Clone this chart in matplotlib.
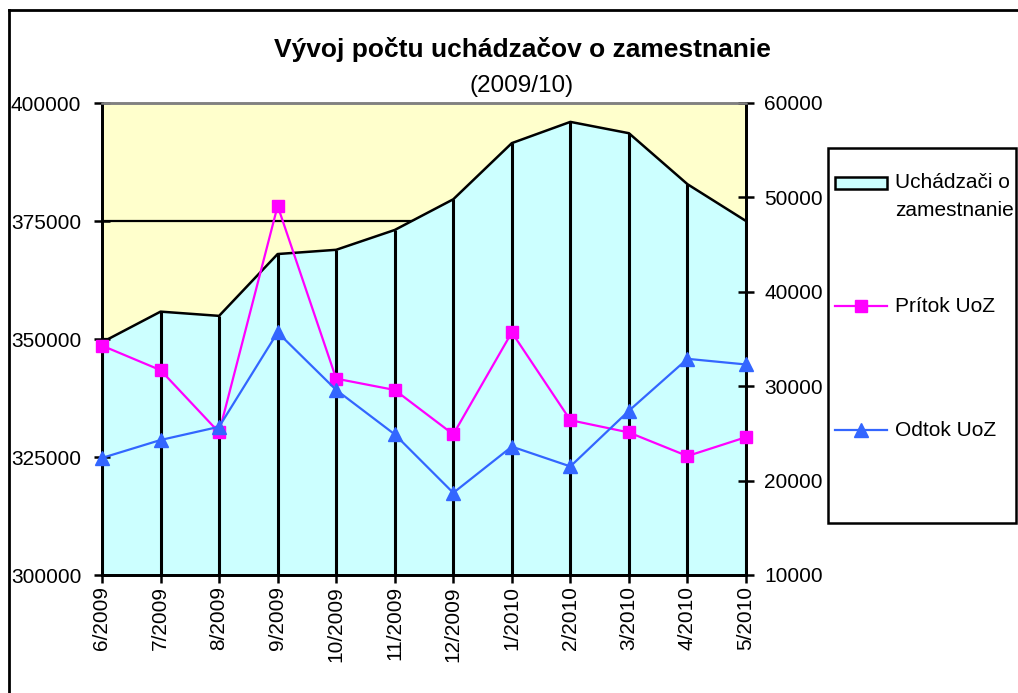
import matplotlib
matplotlib.use("Agg")
import matplotlib.pyplot as plt
from matplotlib.lines import Line2D
from matplotlib.patches import Rectangle

plt.rcParams['font.family'] = ['Liberation Sans', 'DejaVu Sans']

months = ["6/2009", "7/2009", "8/2009", "9/2009", "10/2009", "11/2009",
          "12/2009", "1/2010", "2/2010", "3/2010", "4/2010", "5/2010"]
uchadzaci = [349300, 355800, 354900, 368000, 368900, 373100,
             379600, 391500, 396000, 393600, 382800, 375000]
pritok = [34300, 31700, 25100, 49100, 30800, 29600,
          24900, 35700, 26400, 25100, 22600, 24600]
odtok = [22400, 24300, 25700, 35700, 29600, 24900,
         18700, 23600, 21500, 27400, 32900, 32300]

W, H = 1018, 693
fig = plt.figure(figsize=(W / 100, H / 100), dpi=100)
fig.patch.set_facecolor("white")

L, R, T, B = 102, 746, 103, 575
ax = fig.add_axes([L / W, 1 - B / H, (R - L) / W, (B - T) / H])
ax2 = ax.twinx()

x = list(range(len(months)))
fill_c = "#CCFFFF"
ax.set_facecolor("#FFFFCC")
ax.set_xlim(0, len(months) - 1)
ax.set_ylim(300000, 400000)
ax.set_yticks([300000, 325000, 350000, 375000, 400000])
for g in [325000, 350000, 375000]:
    ax.axhline(g, color="black", lw=1.6, zorder=0.5)
ax.fill_between(x, 300000, uchadzaci, color=fill_c, zorder=1, lw=0)
ax.plot(x, uchadzaci, color="black", lw=1.8, zorder=2)
ax.vlines(x, 300000, uchadzaci, color="black", lw=2.2, zorder=2)

ax2.set_ylim(10000, 60000)
ax2.set_yticks([10000, 20000, 30000, 40000, 50000, 60000])
pcol = "#FF00FF"
ocol = "#3366FF"
ax2.plot(x, pritok, color=pcol, lw=1.6, marker="s", ms=9,
         markerfacecolor=pcol, markeredgecolor=pcol, zorder=3, clip_on=False)
ax2.plot(x, odtok, color=ocol, lw=1.6, marker="^", ms=10.5,
         markerfacecolor=ocol, markeredgecolor=ocol, zorder=3, clip_on=False)

ax.set_xticks(x)
ax.set_xticklabels(months, rotation=90, fontsize=15, va="top", ha="center")
ax.tick_params(axis="x", direction="inout", length=12, width=1.8, pad=2)
ax.tick_params(axis="y", direction="inout", length=12, width=1.8, pad=9, labelsize=15)
ax2.tick_params(axis="y", direction="inout", length=12, width=1.8, pad=7, labelsize=15)

for a in (ax, ax2):
    for s in ("left", "right", "bottom"):
        a.spines[s].set_color("black")
        a.spines[s].set_linewidth(2.0)
    a.spines["top"].set_color("#808080")
    a.spines["top"].set_linewidth(1.8)

# Titles
fig.text(522 / W, 1 - 50 / H, "Vývoj počtu uchádzačov o zamestnanie",
         ha="center", va="center", fontsize=19, fontweight="bold")
fig.text(522 / W, 1 - 86 / H, "(2009/10)", ha="center", va="center", fontsize=17.5)

# Figure border (left and top edges visible)
fig.add_artist(Line2D([9 / W, 9 / W], [0, 1 - 10 / H], transform=fig.transFigure,
                      color="black", lw=2.0))
fig.add_artist(Line2D([9 / W, 1], [1 - 10 / H, 1 - 10 / H], transform=fig.transFigure,
                      color="black", lw=2.0))

# Legend
lx0, lx1, ly0, ly1 = 828, 1016, 148, 523
lax = fig.add_axes([0, 0, 1, 1], facecolor="none")
lax.set_xlim(0, W)
lax.set_ylim(H, 0)
lax.axis("off")
lax.add_patch(Rectangle((lx0, ly0), lx1 - lx0, ly1 - ly0, facecolor="white",
                        edgecolor="black", lw=1.8))
lax.add_patch(Rectangle((835, 177), 52, 12, facecolor=fill_c, edgecolor="black", lw=1.8))
lax.text(895, 183, "Uchádzači o", fontsize=15, va="center", ha="left")
lax.text(895, 211, "zamestnanie", fontsize=15, va="center", ha="left")
lax.plot([835, 887], [306, 306], color=pcol, lw=1.6)
lax.plot([861], [306], marker="s", ms=9, color=pcol)
lax.text(895, 306, "Prítok UoZ", fontsize=15, va="center", ha="left")
lax.plot([835, 887], [430, 430], color=ocol, lw=1.6)
lax.plot([861], [430], marker="^", ms=10.5, color=ocol)
lax.text(895, 430, "Odtok UoZ", fontsize=15, va="center", ha="left")

fig.savefig("out.png", dpi=100)
